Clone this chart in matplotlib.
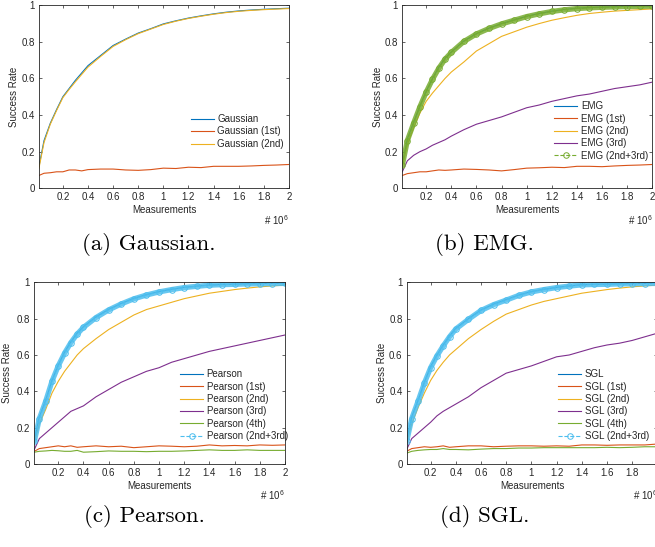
"""Success rate vs. number of measurements for four leakage models (2x2 panels)."""

import matplotlib

matplotlib.use("Agg")
import matplotlib.pyplot as plt

plt.rcParams["font.family"] = ["Liberation Sans", "DejaVu Sans"]
plt.rcParams["mathtext.fontset"] = "custom"
plt.rcParams["mathtext.rm"] = "Liberation Sans"
plt.rcParams["mathtext.it"] = "Liberation Sans"

# measurements, in units of 10^6
x_meas = [0.01, 0.05, 0.1, 0.15, 0.2, 0.25, 0.3, 0.35, 0.4, 0.5, 0.6, 0.7, 0.8,
          0.9, 1.0, 1.1, 1.2, 1.3, 1.4, 1.5, 1.6, 1.7, 1.8, 1.9, 2.0]

gauss = [0.12, 0.26, 0.355, 0.43, 0.50, 0.545, 0.59, 0.63, 0.67, 0.725, 0.78, 0.815, 0.848,
         0.872, 0.898, 0.915, 0.93, 0.942, 0.953, 0.962, 0.969, 0.974, 0.978, 0.981, 0.984]
gauss_1st = [0.07, 0.082, 0.085, 0.09, 0.09, 0.1, 0.1, 0.095, 0.102, 0.105, 0.105, 0.1, 0.098,
             0.102, 0.11, 0.108, 0.115, 0.113, 0.12, 0.12, 0.12, 0.122, 0.125, 0.127, 0.13]
gauss_2nd = [0.11, 0.25, 0.35, 0.425, 0.495, 0.54, 0.582, 0.622, 0.662, 0.72, 0.775, 0.812, 0.845,
             0.87, 0.895, 0.913, 0.928, 0.94, 0.951, 0.96, 0.967, 0.972, 0.976, 0.979, 0.982]

emg = [0.13, 0.27, 0.36, 0.45, 0.53, 0.6, 0.66, 0.71, 0.745, 0.805, 0.845, 0.875, 0.9,
       0.92, 0.94, 0.955, 0.968, 0.977, 0.984, 0.988, 0.99, 0.992, 0.994, 0.995, 0.996]
emg_1st = [0.07, 0.08, 0.085, 0.09, 0.09, 0.095, 0.1, 0.098, 0.1, 0.105, 0.103, 0.1, 0.095,
           0.102, 0.11, 0.112, 0.115, 0.113, 0.12, 0.12, 0.118, 0.122, 0.125, 0.127, 0.13]
emg_2nd = [0.12, 0.24, 0.33, 0.41, 0.475, 0.52, 0.56, 0.6, 0.635, 0.69, 0.75, 0.79, 0.83,
           0.855, 0.88, 0.9, 0.918, 0.932, 0.945, 0.955, 0.962, 0.968, 0.972, 0.976, 0.98]
emg_3rd = [0.09, 0.15, 0.18, 0.2, 0.215, 0.235, 0.25, 0.265, 0.285, 0.32, 0.35, 0.37, 0.39,
           0.415, 0.44, 0.455, 0.475, 0.49, 0.505, 0.515, 0.53, 0.545, 0.555, 0.565, 0.58]
emg_23 = [0.125, 0.26, 0.355, 0.445, 0.525, 0.595, 0.655, 0.705, 0.742, 0.802, 0.843, 0.873, 0.898,
          0.918, 0.938, 0.953, 0.966, 0.975, 0.982, 0.986, 0.989, 0.991, 0.993, 0.994, 0.995]

pearson = [0.13, 0.26, 0.35, 0.46, 0.545, 0.615, 0.673, 0.72, 0.756, 0.81, 0.851, 0.884, 0.912,
           0.932, 0.949, 0.962, 0.972, 0.979, 0.985, 0.988, 0.99, 0.992, 0.993, 0.994, 0.995]
pearson_1st = [0.07, 0.085, 0.09, 0.095, 0.1, 0.095, 0.1, 0.092, 0.095, 0.1, 0.095, 0.098, 0.09,
               0.095, 0.1, 0.098, 0.095, 0.098, 0.105, 0.1, 0.102, 0.1, 0.105, 0.103, 0.105]
pearson_2nd = [0.12, 0.22, 0.3, 0.39, 0.455, 0.51, 0.555, 0.6, 0.635, 0.69, 0.74, 0.78, 0.82,
               0.85, 0.87, 0.89, 0.91, 0.925, 0.94, 0.95, 0.96, 0.968, 0.975, 0.98, 0.985]
pearson_3rd = [0.08, 0.14, 0.17, 0.2, 0.23, 0.26, 0.29, 0.305, 0.32, 0.37, 0.41, 0.45, 0.48,
               0.51, 0.53, 0.56, 0.58, 0.6, 0.62, 0.635, 0.65, 0.665, 0.68, 0.695, 0.71]
pearson_4th = [0.065, 0.07, 0.072, 0.075, 0.073, 0.07, 0.07, 0.075, 0.065, 0.068, 0.072, 0.07, 0.07,
               0.068, 0.07, 0.07, 0.072, 0.075, 0.078, 0.075, 0.075, 0.078, 0.075, 0.075, 0.075]
pearson_23 = [0.125, 0.25, 0.345, 0.455, 0.54, 0.61, 0.668, 0.715, 0.752, 0.806, 0.848, 0.881, 0.909,
              0.93, 0.947, 0.96, 0.971, 0.978, 0.984, 0.987, 0.989, 0.991, 0.992, 0.993, 0.994]

sgl = [0.13, 0.26, 0.35, 0.45, 0.536, 0.6, 0.655, 0.705, 0.747, 0.8, 0.848, 0.88, 0.905,
       0.93, 0.949, 0.962, 0.972, 0.98, 0.987, 0.989, 0.99, 0.992, 0.993, 0.994, 0.995]
sgl_1st = [0.07, 0.085, 0.09, 0.095, 0.092, 0.095, 0.1, 0.092, 0.095, 0.1, 0.1, 0.095, 0.098,
           0.1, 0.1, 0.098, 0.1, 0.098, 0.105, 0.105, 0.103, 0.105, 0.105, 0.105, 0.11]
sgl_2nd = [0.12, 0.22, 0.31, 0.39, 0.46, 0.515, 0.56, 0.6, 0.63, 0.69, 0.74, 0.785, 0.825,
           0.85, 0.875, 0.895, 0.91, 0.925, 0.94, 0.95, 0.96, 0.968, 0.975, 0.98, 0.985]
sgl_3rd = [0.08, 0.14, 0.17, 0.2, 0.23, 0.265, 0.29, 0.31, 0.33, 0.37, 0.42, 0.46, 0.5,
           0.52, 0.54, 0.565, 0.59, 0.6, 0.62, 0.64, 0.655, 0.665, 0.68, 0.7, 0.72]
sgl_4th = [0.06, 0.07, 0.075, 0.078, 0.08, 0.08, 0.085, 0.08, 0.08, 0.078, 0.082, 0.085, 0.085,
           0.088, 0.088, 0.09, 0.09, 0.09, 0.09, 0.09, 0.092, 0.09, 0.092, 0.095, 0.095]
sgl_23 = [0.125, 0.25, 0.345, 0.445, 0.53, 0.595, 0.65, 0.7, 0.743, 0.796, 0.845, 0.877, 0.902,
          0.928, 0.947, 0.96, 0.971, 0.979, 0.986, 0.988, 0.989, 0.991, 0.992, 0.993, 0.994]

x_ticks = [0.2, 0.4, 0.6, 0.8, 1.0, 1.2, 1.4, 1.6, 1.8, 2.0]
x_tick_labels = ["0.2", "0.4", "0.6", "0.8", "1", "1.2", "1.4", "1.6", "1.8", "2"]
y_ticks = [0, 0.2, 0.4, 0.6, 0.8, 1.0]
y_tick_labels = ["0", "0.2", "0.4", "0.6", "0.8", "1"]

# MATLAB default line colours
C_BLUE = "#0072BD"
C_RED = "#D95319"
C_YEL = "#EDB120"
C_PUR = "#7E2F8E"
C_GRN = "#77AC30"
C_CYAN = "#4DBEEE"
AX_COL = "#262626"


def style_axes(ax, ylabel_x):
    ax.set_xlim(0.01, 2.0)
    ax.set_ylim(0, 1)
    ax.set_xticks(x_ticks)
    ax.set_xticklabels(x_tick_labels)
    ax.set_yticks(y_ticks)
    ax.set_yticklabels(y_tick_labels)
    ax.tick_params(direction="in", length=2.5, width=0.5, labelsize=7,
                   colors=AX_COL, top=True, right=True, pad=3)
    for sp in ax.spines.values():
        sp.set_linewidth(0.6)
        sp.set_color(AX_COL)
    ax.set_xlabel("Measurements", fontsize=7, color=AX_COL, labelpad=2)
    ax.set_ylabel("Success Rate", fontsize=7, color=AX_COL)
    ax.yaxis.set_label_coords(ylabel_x, 0.5)
    ax.text(1.0, -0.135, r"# 10$^{6}$", transform=ax.transAxes, fontsize=7,
            color=AX_COL, ha="right", va="top")


def plot_band(ax, y, color, label):
    """Dense circle-marker series: thick band plus hollow circles."""
    ax.plot(x_meas, y, color=color, lw=3.8, alpha=0.85, solid_capstyle="round")
    ax.plot(x_meas, y, color=color, lw=0.8, ls="--", marker="o", ms=4,
            mfc="none", mew=0.7, label=label)


def add_legend(ax, anchor):
    ax.legend(loc="lower left", bbox_to_anchor=anchor, frameon=False,
              fontsize=7, handlelength=2.4, handletextpad=0.35,
              labelspacing=0.25, borderpad=0, borderaxespad=0,
              labelcolor=AX_COL)


def main():
    fig = plt.figure(figsize=(6.55, 5.47), dpi=100)
    ax_a = fig.add_axes([0.0595, 0.6558, 0.3817, 0.3346])
    ax_b = fig.add_axes([0.6142, 0.6558, 0.3817, 0.3346])
    ax_c = fig.add_axes([0.0524, 0.1517, 0.3827, 0.3322])
    ax_d = fig.add_axes([0.6209, 0.1517, 0.3827, 0.3322])

    lw = 0.8

    # (a) Gaussian
    ax_a.plot(x_meas, gauss, color=C_BLUE, lw=lw, label="Gaussian")
    ax_a.plot(x_meas, gauss_1st, color=C_RED, lw=lw, label="Gaussian (1st)")
    ax_a.plot(x_meas, gauss_2nd, color=C_YEL, lw=lw, label="Gaussian (2nd)")
    style_axes(ax_a, -0.08)
    add_legend(ax_a, (0.607, 0.215))

    # (b) EMG
    ax_b.plot(x_meas, emg, color=C_BLUE, lw=lw, label="EMG")
    ax_b.plot(x_meas, emg_1st, color=C_RED, lw=lw, label="EMG (1st)")
    ax_b.plot(x_meas, emg_2nd, color=C_YEL, lw=lw, label="EMG (2nd)")
    ax_b.plot(x_meas, emg_3rd, color=C_PUR, lw=lw, label="EMG (3rd)")
    plot_band(ax_b, emg_23, C_GRN, "EMG (2nd+3rd)")
    style_axes(ax_b, -0.077)
    add_legend(ax_b, (0.607, 0.15))

    # (c) Pearson
    ax_c.plot(x_meas, pearson, color=C_BLUE, lw=lw, label="Pearson")
    ax_c.plot(x_meas, pearson_1st, color=C_RED, lw=lw, label="Pearson (1st)")
    ax_c.plot(x_meas, pearson_2nd, color=C_YEL, lw=lw, label="Pearson (2nd)")
    ax_c.plot(x_meas, pearson_3rd, color=C_PUR, lw=lw, label="Pearson (3rd)")
    ax_c.plot(x_meas, pearson_4th, color=C_GRN, lw=lw, label="Pearson (4th)")
    plot_band(ax_c, pearson_23, C_CYAN, "Pearson (2nd+3rd)")
    style_axes(ax_c, -0.089)
    add_legend(ax_c, (0.581, 0.125))

    # (d) SGL
    ax_d.plot(x_meas, sgl, color=C_BLUE, lw=lw, label="SGL")
    ax_d.plot(x_meas, sgl_1st, color=C_RED, lw=lw, label="SGL (1st)")
    ax_d.plot(x_meas, sgl_2nd, color=C_YEL, lw=lw, label="SGL (2nd)")
    ax_d.plot(x_meas, sgl_3rd, color=C_PUR, lw=lw, label="SGL (3rd)")
    ax_d.plot(x_meas, sgl_4th, color=C_GRN, lw=lw, label="SGL (4th)")
    plot_band(ax_d, sgl_23, C_CYAN, "SGL (2nd+3rd)")
    style_axes(ax_d, -0.079)
    add_legend(ax_d, (0.603, 0.125))

    # sub-figure captions
    cap = dict(fontsize=16.5, family="cmr10", ha="center", va="center", color="black")
    fig.text(149 / 655, 1 - 244 / 547, "(a) Gaussian.", **cap)
    fig.text(484 / 655, 1 - 244 / 547, "(b) EMG.", **cap)
    fig.text(144 / 655, 1 - 516 / 547, "(c) Pearson.", **cap)
    fig.text(485 / 655, 1 - 516 / 547, "(d) SGL.", **cap)

    fig.savefig("out.png", dpi=100)


if __name__ == "__main__":
    main()
